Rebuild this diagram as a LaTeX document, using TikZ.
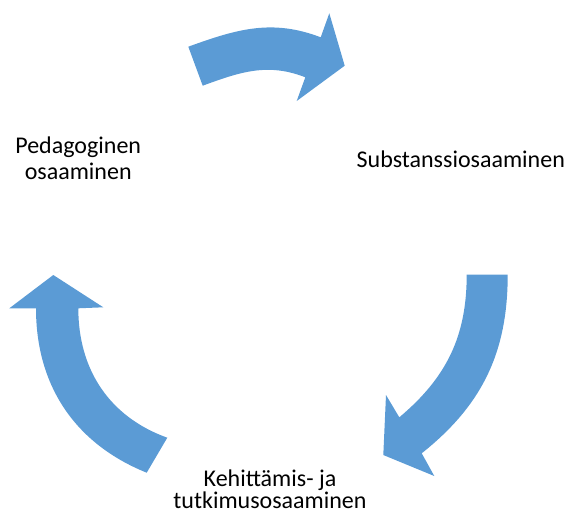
\documentclass[tikz,border=0pt]{standalone}
\usepackage{fontspec}
\setmainfont{Carlito}
\definecolor{arrowblue}{HTML}{5B9BD5}
\begin{document}
\begin{tikzpicture}[x=1pt,y=1pt,
  arrowshape/.style={fill=arrowblue, draw=none},
  lbl/.style={inner sep=0pt, align=center, text=black}]
\useasboundingbox (0,0) rectangle (567,-512);
% top arrow
\fill[arrowshape] (188.3,-46.7) to[out=20,in=159] (320.7,-37.3) -- (329.3,-13.3) -- (344.7,-65.7) -- (296.7,-101) -- (305.3,-77.3) to[out=158.5,in=20.2] (202.7,-85.7) -- cycle;
% right arrow
\fill[arrowshape] (507.7,-274.7) to[out=-90,in=38.5] (421.7,-453.3) -- (434.3,-476) -- (383.3,-455) -- (386,-395) -- (399.3,-417.3) to[out=40,in=-90] (466.7,-274.7) -- cycle;
% left arrow
\fill[arrowshape] (146.7,-472.7) to[out=158,in=-90] (36,-308.3) -- (9.3,-308.3) -- (53.3,-275) -- (103.3,-307.3) -- (78.3,-308.3) to[out=-90,in=160.2] (167.3,-437.7) -- cycle;
% labels
\node[lbl, anchor=base, font=\fontsize{24}{25.5}\selectfont] (ped) at (78.2,-179) {Pedagoginen\\osaaminen};
\node[lbl, anchor=base, font=\fontsize{24}{25}\selectfont] (sub) at (460.8,-167.3) {Substanssiosaaminen};
\node[lbl, anchor=base, font=\fontsize{24}{22}\selectfont] (keh) at (270,-508.5) {Kehittämis- ja\\tutkimusosaaminen};
\end{tikzpicture}
\end{document}
